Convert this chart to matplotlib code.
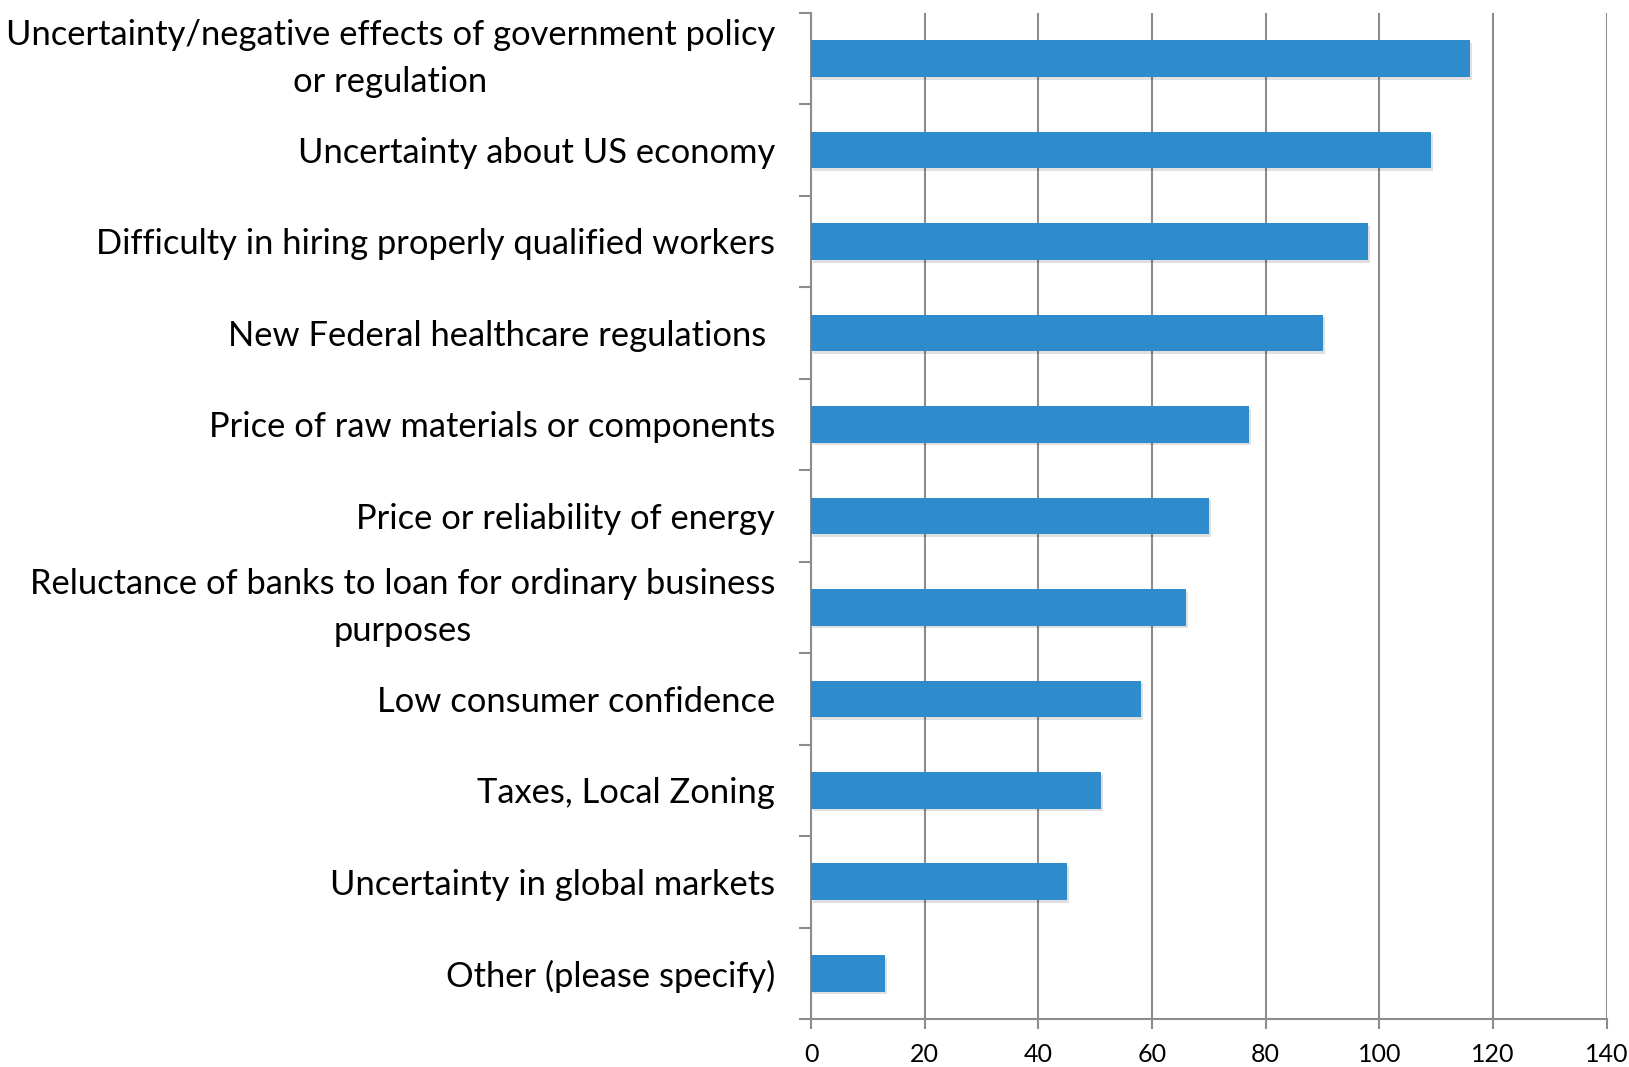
import matplotlib
matplotlib.use("Agg")
import matplotlib.pyplot as plt
import matplotlib.patheffects as pe
import numpy as np

categories = [
    "Uncertainty/negative effects of government policy\nor regulation",
    "Uncertainty about US economy",
    "Difficulty in hiring properly qualified workers",
    "New Federal healthcare regulations ",
    "Price of raw materials or components",
    "Price or reliability of energy",
    "Reluctance of banks to loan for ordinary business\npurposes",
    "Low consumer confidence",
    "Taxes, Local Zoning",
    "Uncertainty in global markets",
    "Other (please specify)",
]
values = [116, 109, 98, 90, 77, 70, 66, 58, 51, 45, 13]
xticks = [0, 20, 40, 60, 80, 100, 120, 140]

plt.rcParams['font.family'] = ['Lato', 'DejaVu Sans']

fig = plt.figure(figsize=(16.29, 10.67), dpi=100)
ax = fig.add_axes([0.4979, 0.045, 0.4884, 0.943])

y = np.arange(len(categories))
bars = ax.barh(y, values, height=0.4, color='#2e8bcc', zorder=3)
for b in bars:
    b.set_path_effects([pe.SimplePatchShadow(offset=(1.5, -2), shadow_rgbFace='#000000', alpha=0.12), pe.Normal()])

ax.set_xlim(0, 140)
ax.set_ylim(len(categories) - 0.5, -0.5)
ax.set_xticks(xticks)
ax.set_xticklabels([str(t) for t in xticks], fontsize=18)
ax.set_yticks(y)
ax.set_yticklabels(categories, fontsize=24.8)
for lab in ax.get_yticklabels():
    lab.set_multialignment('center')
    lab.set_linespacing(1.55)
    if '\n' in lab.get_text():
        lab.set_verticalalignment('center')
ax.set_yticks(np.arange(-0.5, len(categories)), minor=True)

ax.tick_params(axis='y', which='major', length=0, pad=26)
ax.tick_params(axis='y', which='minor', length=9, width=1.5, color='#8c8c8c', direction='out')
ax.tick_params(axis='x', length=7, width=1.5, color='#8c8c8c', pad=10)

ax.grid(axis='x', color='#8c8c8c', linewidth=1.5, zorder=0)
for s in ['top', 'right']:
    ax.spines[s].set_visible(False)
for s in ['left', 'bottom']:
    ax.spines[s].set_color('#8c8c8c')
    ax.spines[s].set_linewidth(1.5)

fig.savefig('out.png', dpi=100)
